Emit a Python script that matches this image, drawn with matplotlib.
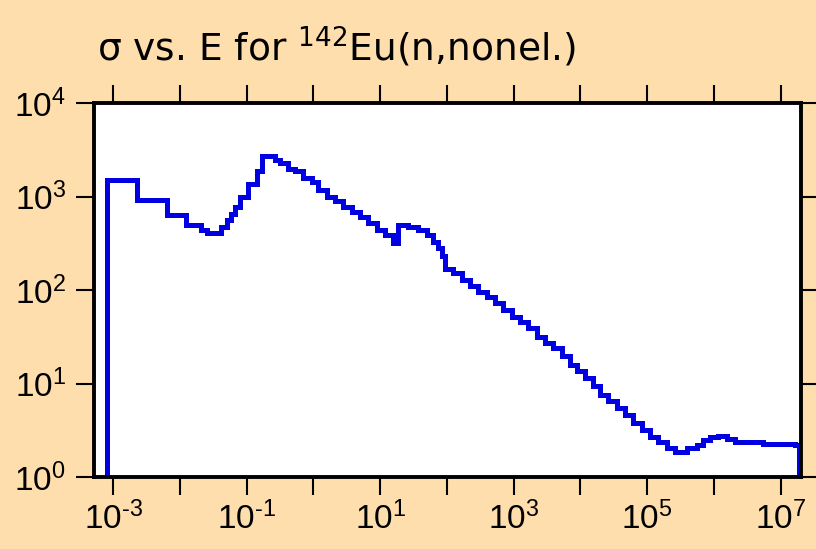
import numpy as np
import matplotlib.pyplot as plt
from matplotlib.ticker import FixedLocator, FixedFormatter, NullLocator

plt.rcParams['font.family'] = 'Liberation Sans'
plt.rcParams['mathtext.fontset'] = 'custom'
plt.rcParams['mathtext.rm'] = 'Liberation Sans'
plt.rcParams['mathtext.it'] = 'Liberation Sans:italic'
plt.rcParams['mathtext.bf'] = 'Liberation Sans:bold'

# group boundaries, log10(E / eV)
log_edges = [
    -3.10, -2.65, -2.20, -1.91, -1.69, -1.60, -1.38, -1.30, -1.23, -1.18,
    -1.10, -0.98, -0.85, -0.77, -0.58, -0.50, -0.38, -0.28, -0.16, -0.02,
    0.07, 0.20, 0.32, 0.44, 0.58, 0.70, 0.82, 0.95, 1.07, 1.19,
    1.26, 1.42, 1.57, 1.70, 1.79, 1.87, 1.93, 1.97, 2.09, 2.23,
    2.35, 2.47, 2.60, 2.72, 2.84, 2.98, 3.10, 3.22, 3.35, 3.47,
    3.59, 3.72, 3.84, 3.95, 4.07, 4.19, 4.29, 4.41, 4.55, 4.67,
    4.79, 4.92, 5.04, 5.16, 5.30, 5.42, 5.60, 5.75, 5.84, 5.94,
    6.06, 6.20, 6.32, 6.54, 6.74, 6.99, 7.22, 7.27,
]
# group cross sections, log10(sigma / b)
log_sigma = [
    3.18, 2.96, 2.80, 2.70, 2.64, 2.61, 2.68, 2.75, 2.82, 2.89,
    3.00, 3.14, 3.28, 3.43, 3.39, 3.36, 3.30, 3.27, 3.20, 3.16,
    3.07, 3.00, 2.95, 2.89, 2.84, 2.78, 2.72, 2.64, 2.59, 2.50,
    2.70, 2.68, 2.64, 2.59, 2.52, 2.45, 2.36, 2.23, 2.18, 2.11,
    2.04, 1.98, 1.93, 1.86, 1.79, 1.71, 1.66, 1.59, 1.50, 1.43,
    1.38, 1.30, 1.20, 1.13, 1.06, 0.97, 0.88, 0.81, 0.74, 0.66,
    0.58, 0.50, 0.43, 0.38, 0.31, 0.27, 0.31, 0.34, 0.40, 0.43,
    0.44, 0.41, 0.38, 0.37, 0.35, 0.35, 0.34,
]

x_decades = list(range(-3, 8))
y_decades = list(range(0, 5))
x_labels = [r'$10^{\text{-}%d}$' % -d if d < 0 else r'$10^{%d}$' % d for d in x_decades]
x_labels = [lab if d % 2 else '' for lab, d in zip(x_labels, x_decades)]
y_labels = [r'$10^{%d}$' % d for d in y_decades]

edges = 10.0 ** np.array(log_edges)
sigma = 10.0 ** np.array(log_sigma)

fig = plt.figure(figsize=(8.16, 5.49), dpi=100, facecolor='#ffdead')
ax = fig.add_axes([0.115, 0.131, 0.867, 0.681])
ax.stairs(sigma, edges, baseline=1, color='#0000e0', lw=3.6)

ax.set_xscale('log')
ax.set_yscale('log')
ax.set_xlim(5.1e-4, 2.05e7)
ax.set_ylim(1, 1e4)

ax.xaxis.set_major_locator(FixedLocator([10.0 ** d for d in x_decades]))
ax.xaxis.set_major_formatter(FixedFormatter(x_labels))
ax.yaxis.set_major_locator(FixedLocator([10.0 ** d for d in y_decades]))
ax.yaxis.set_major_formatter(FixedFormatter(y_labels))
ax.xaxis.set_minor_locator(NullLocator())
ax.yaxis.set_minor_locator(NullLocator())

ax.tick_params(which='major', direction='out', length=13, width=1.5,
               top=True, right=True, labelsize=24, colors='black')
ax.tick_params(axis='x', pad=5)
ax.tick_params(axis='y', pad=7)
for sp in ax.spines.values():
    sp.set_linewidth(2.8)

fig.text(97 / 816, 0.889, r'σ vs. E for $^{142}$Eu(n,nonel.)', fontsize=27,
         family='DejaVu Sans', math_fontfamily='dejavusans',
         va='baseline', ha='left')

fig.savefig('out.png', dpi=100, facecolor=fig.get_facecolor())
